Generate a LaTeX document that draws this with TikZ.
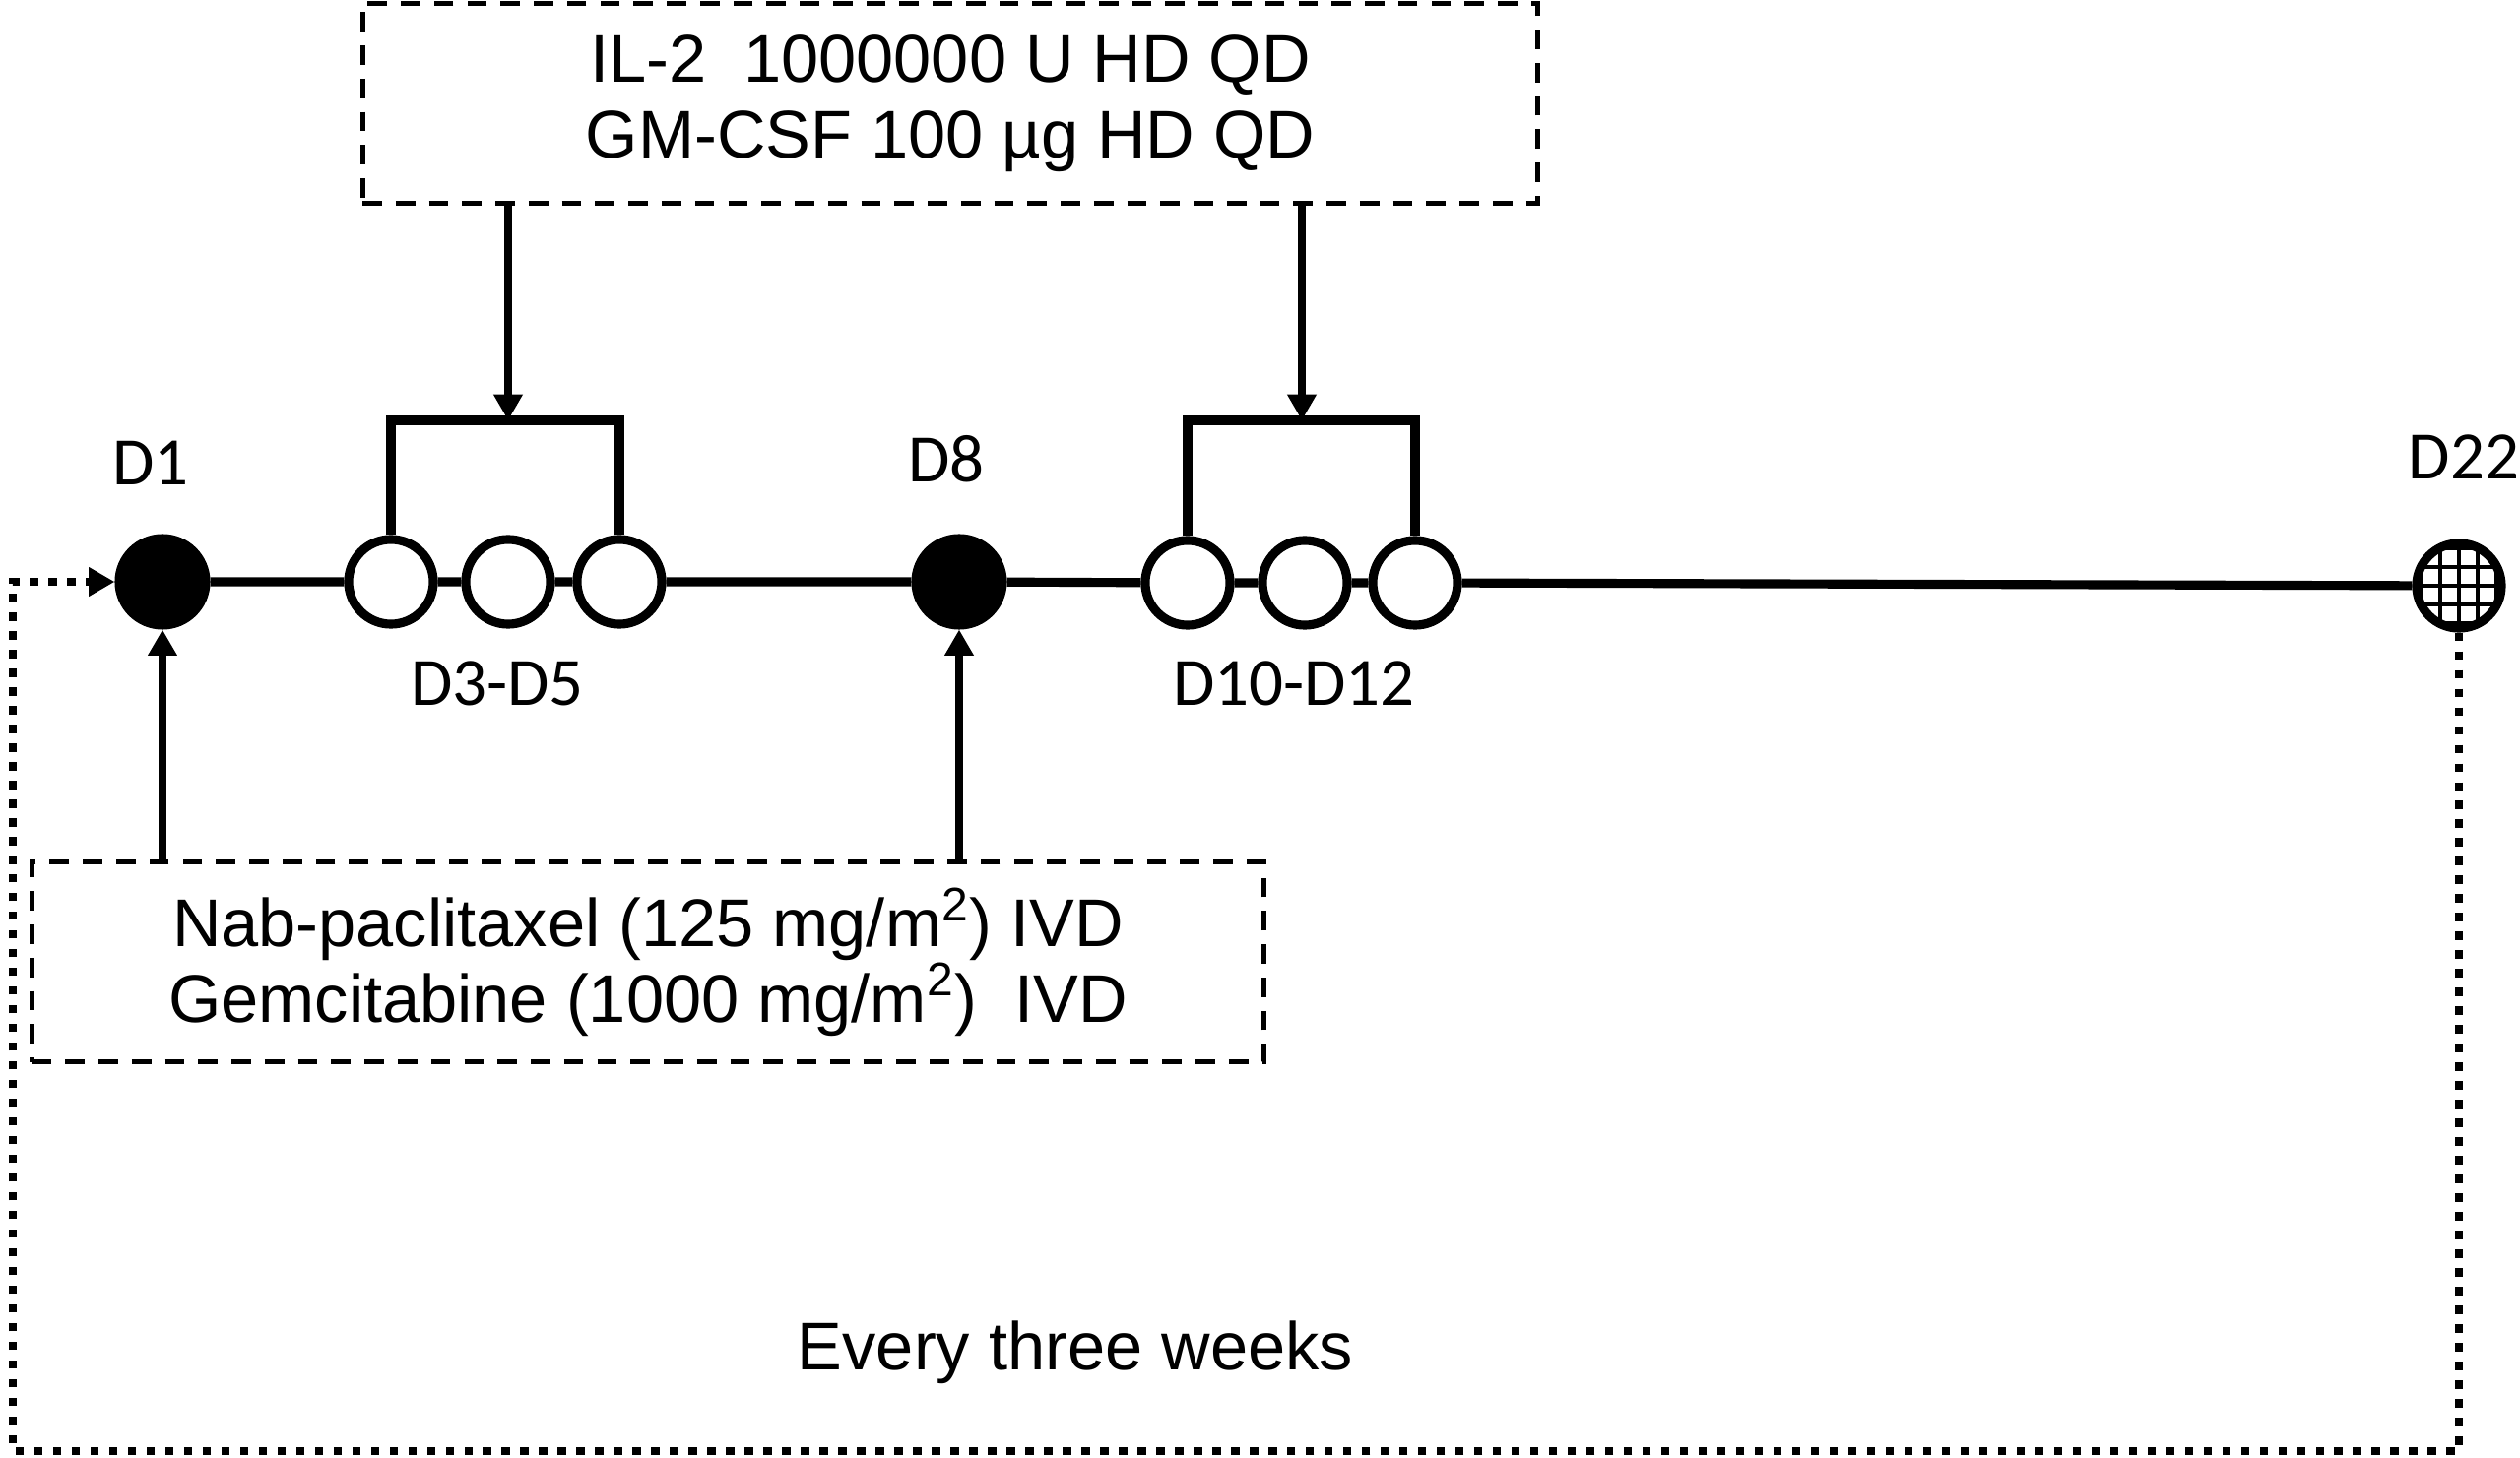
\documentclass[tikz,border=0pt]{standalone}
\usepackage{fontspec}
\setmainfont{Liberation Sans}
\newfontfamily\daylabelfont{Carlito}
\usetikzlibrary{arrows.meta}

\tikzset{
  dosebox/.style={draw,dash pattern=on 5.6pt off 4pt,line width=1.4pt,
    minimum height=2.03cm,align=center,inner sep=0pt,
    font=\fontsize{19.5}{21.8}\selectfont},
  fullday/.style={circle,draw,fill=black,line width=2pt,minimum size=0.9cm,inner sep=0pt},
  openday/.style={circle,draw,fill=white,line width=2.6pt,minimum size=0.86cm,inner sep=0pt},
  daylabel/.style={anchor=base,inner sep=0pt,font=\daylabelfont\fontsize{19.6}{22}\selectfont},
  timeline/.style={line width=2.6pt},
  dosearrow/.style={line width=2.2pt,-{Triangle[length=7.5pt,width=8pt]}},
  cycleline/.style={line width=2.4pt,dash pattern=on 2.4pt off 3pt,-{Triangle[length=7.5pt,width=8pt]}}
}

\begin{document}
\begin{tikzpicture}[x=0.01cm,y=0.01cm]
  \fill[white] (0,0) rectangle (2559,1481);
  \useasboundingbox (0,0) rectangle (2559,1481);

  % dose boxes
  \node[dosebox,minimum width=11.93cm] (ilbox) at (965,1376)
    {IL-2\ \ 1000000 U HD QD\\GM-CSF 100 µg HD QD};
  \node[dosebox,minimum width=12.5cm] (chemobox) at (658,504)
    {Nab-paclitaxel (125 mg/m\textsuperscript{2}) IVD\\Gemcitabine (1000 mg/m\textsuperscript{2})\ \ IVD};

  % days on the time line
  \node[fullday] (d1) at (165,890) {};
  \foreach \n/\x in {1/397,2/516,3/629}
    \node[openday] (a\n) at (\x,890) {};
  \node[fullday] (d8) at (974,890) {};
  \foreach \n/\x in {1/1206,2/1325,3/1437}
    \node[openday] (b\n) at (\x,889) {};

  \coordinate (d22c) at (2497,886);
  \begin{scope}
    \clip (d22c) circle[radius=0.43cm];
    \draw[line width=1.2pt,shift={(d22c)},step=0.19cm] (-50,-50) grid (50,50);
  \end{scope}
  \node[openday,fill=none] (d22) at (d22c) {};

  \draw[timeline] (d1) -- (a1) -- (a2) -- (a3) -- (d8) -- (b1) -- (b2) -- (b3) -- (d22);

  % brackets over the cytokine days
  \coordinate (k1) at (516,1054);
  \coordinate (k2) at (1322,1054);
  \draw[timeline] (a1.north) |- (k1) -| (a3.north);
  \draw[timeline] (b1.north) |- (k2) -| (b3.north);
  \draw[dosearrow] (ilbox.south -| k1) -- (k1);
  \draw[dosearrow] (ilbox.south -| k2) -- (k2);

  % chemotherapy arrows
  \draw[dosearrow] (chemobox.north -| d1) -- (d1.south);
  \draw[dosearrow] (chemobox.north -| d8) -- (d8.south);

  % labels
  \node[daylabel] (d1lab) at (153,988) {D1};
  \node[daylabel] (d8lab) at (961,991) {D8};
  \node[daylabel,anchor=base west] (d22lab) at (2445,994) {D22};
  \node[daylabel] (alab) at (505,764) {D3-D5};
  \node[daylabel] (blab) at (1314,764) {D10-D12};

  % cycle loop
  \coordinate (corner) at (13,7);
  \draw[cycleline] (d22.south) |- (corner) |- (d1.west);
  \node[anchor=base,font=\fontsize{19.5}{22}\selectfont] (cycle) at (1092,89) {Every three weeks};
\end{tikzpicture}
\end{document}
